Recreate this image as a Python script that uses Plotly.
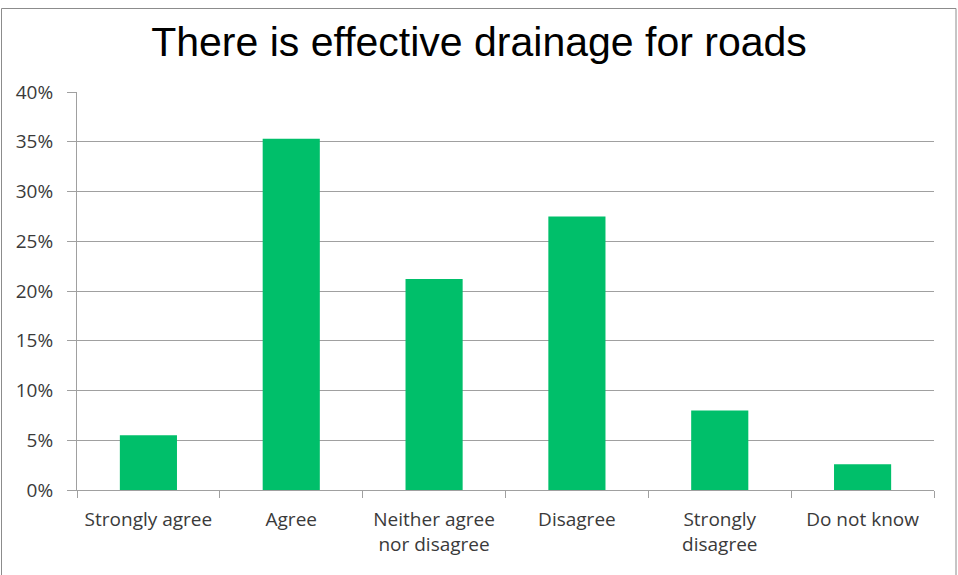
import plotly.graph_objects as go

# Survey responses: "There is effective drainage for roads"
categories = [
    "Strongly agree",
    "Agree",
    "Neither agree<br>nor disagree",
    "Disagree",
    "Strongly<br>disagree",
    "Do not know",
]
shares = [0.055, 0.353, 0.212, 0.275, 0.080, 0.026]
y_ticks = [0, 0.05, 0.10, 0.15, 0.20, 0.25, 0.30, 0.35, 0.40]

W, H = 958, 575
L, R, T, B = 77, 24, 92, 85

fig = go.Figure(
    go.Bar(
        x=categories,
        y=shares,
        marker=dict(color="#00BF6A", line=dict(width=0)),
        hoverinfo="x+y",
    )
)

axis_grey = "#A0A0A0"
label_font = dict(family="'Open Sans', Lato, sans-serif", size=19, color="#3A3A3A")

fig.update_layout(
    width=W,
    height=H,
    margin=dict(l=L, r=R, t=T, b=B),
    paper_bgcolor="white",
    plot_bgcolor="white",
    bargap=0.6,
    showlegend=False,
    title=dict(
        text="There is effective drainage for roads",
        font=dict(family="Liberation Sans, Arial, sans-serif", size=41, color="#000000"),
        x=0.5,
        xref="container",
        xanchor="center",
        y=1 - 42 / H,
        yref="container",
        yanchor="middle",
    ),
    xaxis=dict(
        showline=True,
        linecolor=axis_grey,
        linewidth=1,
        ticks="outside",
        tickson="boundaries",
        ticklen=7,
        tickcolor=axis_grey,
        tickfont=label_font,
        showgrid=False,
        ticklabelstandoff=12,
    ),
    yaxis=dict(
        range=[0, 0.40],
        tickvals=y_ticks,
        tickformat=".0%",
        showline=True,
        linecolor=axis_grey,
        linewidth=1,
        ticks="outside",
        ticklen=9,
        tickcolor=axis_grey,
        tickfont=label_font,
        showgrid=True,
        gridcolor=axis_grey,
        gridwidth=1,
        zeroline=False,
        ticklabelstandoff=10,
    ),
)

# Thin frame around the whole chart area
pw = W - L - R
ph = H - T - B
fig.add_shape(
    type="rect",
    xref="paper",
    yref="paper",
    x0=(1.5 - L) / pw,
    x1=(956 - L) / pw,
    y0=(H - T - 573.5) / ph,
    y1=(H - T - 1.5) / ph,
    line=dict(color="#8C8C8C", width=1),
    fillcolor="rgba(0,0,0,0)",
    layer="below",
)

fig.write_html("out.html")
